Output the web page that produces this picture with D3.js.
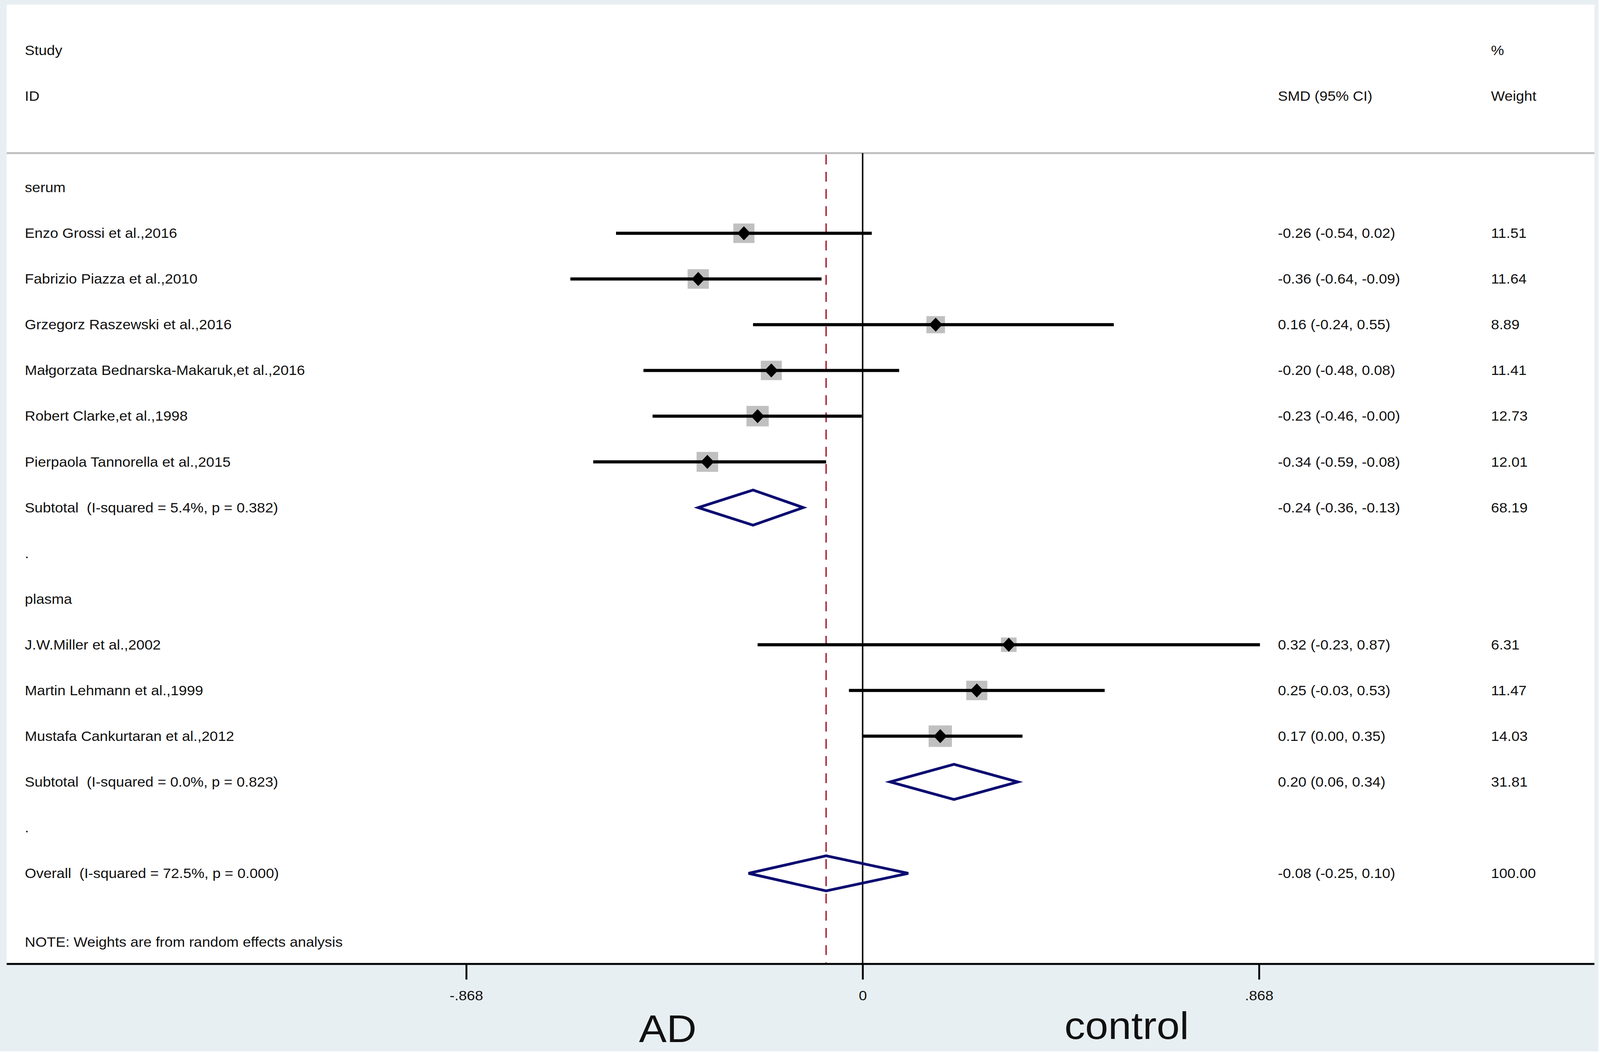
<!DOCTYPE html>
<html>
<head>
<meta charset="utf-8">
<script src="https://cdn.jsdelivr.net/npm/d3@7"></script>
<style>
html, body { margin: 0; padding: 0; background: #fff; overflow: hidden; }
svg { display: block; width: 100vw; height: 100vh; }
text { font-family: "Liberation Sans", Arial, sans-serif; fill: #111; white-space: pre; }
</style>
</head>
<body>
<svg viewBox="0 0 4317 2696" preserveAspectRatio="none"></svg>
<script>
// ---- data ----
const serumStudies = [
    'Enzo Grossi et al.,2016',
    'Fabrizio Piazza et al.,2010',
    'Grzegorz Raszewski et al.,2016',
    'Małgorzata Bednarska-Makaruk,et al.,2016',
    'Robert Clarke,et al.,1998',
    'Pierpaola Tannorella et al.,2015'
];
const serumSMD    = [-0.26, -0.36, 0.16, -0.20, -0.23, -0.34];
const serumLower  = [-0.54, -0.64, -0.24, -0.48, -0.46, -0.59];
const serumUpper  = [0.02, -0.09, 0.55, 0.08, -0.002, -0.08];
const serumWeight = [11.51, 11.64, 8.89, 11.41, 12.73, 12.01];

const plasmaStudies = [
    'J.W.Miller et al.,2002',
    'Martin Lehmann et al.,1999',
    'Mustafa Cankurtaran et al.,2012'
];
const plasmaSMD    = [0.32, 0.25, 0.17];
const plasmaLower  = [-0.23, -0.03, 0.00];
const plasmaUpper  = [0.87, 0.53, 0.35];
const plasmaWeight = [6.31, 11.47, 14.03];

// pooled estimates: serum subtotal, plasma subtotal, overall
const pooledLabels = [
    'Subtotal  (I-squared = 5.4%, p = 0.382)',
    'Subtotal  (I-squared = 0.0%, p = 0.823)',
    'Overall  (I-squared = 72.5%, p = 0.000)'
];
const pooledSMD    = [-0.24, 0.20, -0.08];
const pooledLower  = [-0.36, 0.06, -0.25];
const pooledUpper  = [-0.13, 0.34, 0.10];
const pooledWeight = [68.19, 31.81, 100.00];

const groupNames = ['serum', 'plasma'];
const tickValues = [-0.868, 0, 0.868];
const noteText = 'NOTE: Weights are from random effects analysis';

// ---- layout ----
const svg = d3.select('svg');
const WIDTH = 4317;
const HEIGHT = 2696;

const panel = {left: 18, right: 4302, top: 12, bottom: 2468};
const headerLineY = 392;
const STRETCH = 1.13;
const FONT = 35;
const col = {label: 67, smd: 3448, weight: 4023};

const xScale = d3.scaleLinear().domain([-0.868, 0.868]).range([1258, 3397]);
const yRow = d3.scaleLinear().domain([0, 18]).range([129, 2236]);

const fmt = v => v.toFixed(2);
const ciText = (e, l, u) => fmt(e) + ' (' + fmt(l) + ', ' + fmt(u) + ')';

// build the row table
let rows = [];
let r = 3;
const addGroup = (gi, names, est, lo, hi, w) => {
    rows.push({idx: r++, kind: 'group', label: groupNames[gi]});
    names.forEach((n, i) => {
        rows.push({idx: r++, kind: 'study', label: n, est: est[i], lo: lo[i], hi: hi[i], w: w[i]});
    });
    rows.push({idx: r++, kind: 'pooled', label: pooledLabels[gi], est: pooledSMD[gi], lo: pooledLower[gi], hi: pooledUpper[gi], w: pooledWeight[gi]});
    rows.push({idx: r++, kind: 'gap', label: '.'});
};
addGroup(0, serumStudies, serumSMD, serumLower, serumUpper, serumWeight);
addGroup(1, plasmaStudies, plasmaSMD, plasmaLower, plasmaUpper, plasmaWeight);
rows.push({idx: r++, kind: 'pooled', label: pooledLabels[2], est: pooledSMD[2], lo: pooledLower[2], hi: pooledUpper[2], w: pooledWeight[2]});

const studies = rows.filter(d => d.kind === 'study');
const pooled = rows.filter(d => d.kind === 'pooled');

// ---- backgrounds ----
svg.append('rect').attr('x', 0).attr('y', 0).attr('width', 4313).attr('height', 2692).attr('fill', '#e8eff2');
svg.append('rect')
    .attr('x', panel.left).attr('y', panel.top)
    .attr('width', panel.right - panel.left).attr('height', panel.bottom - panel.top)
    .attr('fill', '#ffffff');

svg.append('line')
    .attr('x1', panel.left).attr('x2', panel.right)
    .attr('y1', headerLineY).attr('y2', headerLineY)
    .attr('stroke', '#bfbfbf').attr('stroke-width', 5);

// reference lines
svg.append('line')
    .attr('x1', xScale(0)).attr('x2', xScale(0))
    .attr('y1', headerLineY).attr('y2', panel.bottom)
    .attr('stroke', '#000').attr('stroke-width', 4);

svg.append('line')
    .attr('x1', xScale(pooledSMD[2])).attr('x2', xScale(pooledSMD[2]))
    .attr('y1', headerLineY + 4).attr('y2', panel.bottom)
    .attr('stroke', '#a8283c').attr('stroke-width', 4)
    .attr('stroke-dasharray', '25 19');

// ---- study marks ----
const plot = svg.append('g');
const boxW = w => 16.8 * Math.sqrt(w);
const boxH = w => 14.7 * Math.sqrt(w);

plot.selectAll('.box')
    .data(studies)
    .enter().append('rect')
    .attr('class', 'box')
    .attr('x', d => xScale(d.est) - boxW(d.w) / 2)
    .attr('y', d => yRow(d.idx) - boxH(d.w) / 2)
    .attr('width', d => boxW(d.w))
    .attr('height', d => boxH(d.w))
    .style('fill', '#c0c0c0');

plot.selectAll('.ci')
    .data(studies)
    .enter().append('line')
    .attr('class', 'ci')
    .attr('x1', d => xScale(d.lo))
    .attr('x2', d => xScale(d.hi))
    .attr('y1', d => yRow(d.idx))
    .attr('y2', d => yRow(d.idx))
    .attr('stroke', '#000').attr('stroke-width', 8);

plot.selectAll('.marker')
    .data(studies)
    .enter().append('path')
    .attr('class', 'marker')
    .attr('d', d => {
        let cx = xScale(d.est), cy = yRow(d.idx);
        return `M${cx - 18},${cy}L${cx},${cy - 18}L${cx + 18},${cy}L${cx},${cy + 18}Z`;
    })
    .style('fill', '#000');

plot.selectAll('.diamond')
    .data(pooled)
    .enter().append('path')
    .attr('class', 'diamond')
    .attr('d', d => {
        let cy = yRow(d.idx);
        return `M${xScale(d.lo)},${cy}L${xScale(d.est)},${cy - 45}L${xScale(d.hi)},${cy}L${xScale(d.est)},${cy + 45}Z`;
    })
    .style('fill', 'none')
    .attr('stroke', '#0b0b70').attr('stroke-width', 7)
    .attr('stroke-linejoin', 'miter');

// ---- text columns ----
const addText = (x, y, str, size, anchor) => {
    svg.append('text')
        .attr('transform', `translate(${x},${y}) scale(${STRETCH},1)`)
        .attr('font-size', size)
        .attr('text-anchor', anchor || 'start')
        .text(str);
};
const base = idx => yRow(idx) + 12;

addText(col.label, base(0), 'Study', FONT);
addText(col.label, base(1), 'ID', FONT);
addText(col.smd, base(1), 'SMD (95% CI)', FONT);
addText(col.weight, base(0), '%', FONT);
addText(col.weight, base(1), 'Weight', FONT);

rows.forEach(d => {
    addText(col.label, base(d.idx), d.label, FONT);
    if (d.kind === 'study' || d.kind === 'pooled') {
        addText(col.smd, base(d.idx), ciText(d.est, d.lo, d.hi), FONT);
        addText(col.weight, base(d.idx), fmt(d.w), FONT);
    }
});
addText(col.label, base(19.5), noteText, FONT);

// ---- x axis ----
svg.append('line')
    .attr('x1', panel.left).attr('x2', panel.right)
    .attr('y1', panel.bottom).attr('y2', panel.bottom)
    .attr('stroke', '#000').attr('stroke-width', 5);

const tickFmt = d => d === 0 ? '0' : (d < 0 ? '-' : '') + Math.abs(d).toFixed(3).replace(/^0/, '');
const xAxis = d3.axisBottom(xScale).tickValues(tickValues).tickFormat(tickFmt).tickSize(40).tickSizeOuter(0);
const axG = svg.append('g')
    .attr('class', 'x-axis')
    .attr('transform', 'translate(0,' + panel.bottom + ')')
    .call(xAxis)
    .attr('font-size', null).attr('font-family', null);
axG.select('.domain').remove();
axG.selectAll('.tick line').attr('stroke', '#000').attr('stroke-width', 5);
axG.selectAll('.tick text')
    .attr('y', 93).attr('dy', null)
    .attr('font-size', FONT)
    .attr('fill', '#111')
    .attr('transform', `scale(${STRETCH},1)`);

addText(1724, 2668, 'AD', 99);
addText(2872, 2660, 'control', 99);
</script>
</body>
</html>
